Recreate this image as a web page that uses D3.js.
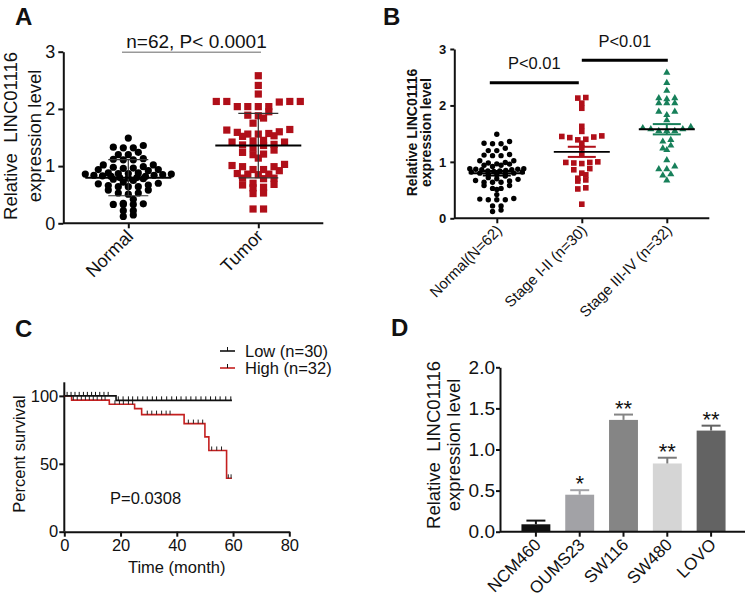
<!DOCTYPE html>
<html><head><meta charset="utf-8">
<script src="https://cdn.jsdelivr.net/npm/d3@7"></script>
<style>
body{margin:0;background:#fff}
svg{display:block}
text{font-family:"Liberation Sans",Arial,Helvetica,sans-serif;fill:#111}
</style>
</head><body>
<svg id="fig" width="750" height="604"></svg>
<script>
// ---------------- DATA ----------------
// Panel A
const groupsA = ["Normal", "Tumor"];
const normalVals = [1.49,1.33,1.32,1.32,1.36,1.20,1.20,1.24,1.13,1.11,1.11,1.12,1.02,1.02,
  0.99,0.965,0.94,0.92,0.94,0.96,0.98,
  0.88,0.87,0.86,0.85,0.84,0.83,0.82,0.80,0.79,0.78,0.80,0.82,0.84,0.86,0.87,0.88,
  0.72,0.70,0.67,0.64,0.64,0.64,0.66,0.69,0.58,0.58,0.53,0.51,0.53,
  0.35,0.34,0.33,0.33,0.33,0.42,0.22,0.22,0.12,0.145,0.75,0.77];
const tumorVals = [2.58,2.41,2.26,2.13,2.13,2.12,2.13,2.13,2.04,2.04,2.04,2.04,
  1.95,1.88,1.84,1.89,1.75,1.63,1.64,
  1.60,1.57,1.56,1.52,1.53,1.56,1.59,1.44,1.42,1.42,1.45,
  1.38,1.36,1.32,1.37,1.28,1.21,1.24,1.14,1.20,
  1.03,0.99,0.99,1.01,0.94,0.87,0.86,0.86,0.92,0.94,
  0.79,0.78,0.79,0.85,0.68,0.63,0.67,0.70,0.53,0.52,0.62,0.25,0.25];
const titleA = "n=62, P< 0.0001";
const ticksA = [0,1,2,3];

// Panel B
const groupsB = ["Normal(N=62)", "Stage I-II (n=30)", "Stage III-IV (n=32)"];
const normalValsB = normalVals.slice();
const stage12Vals = [2.14,2.13,2.04,1.95,1.63,1.54,1.46,1.45,1.44,1.43,1.40,1.39,1.33,1.25,1.15,
  1.00,0.99,0.99,0.98,0.97,0.88,0.86,0.80,0.77,0.71,0.68,0.66,0.54,0.52,0.25];
const stage34Vals = [2.58,2.40,2.26,2.13,2.04,2.04,2.04,2.11,2.13,1.89,1.89,1.83,1.74,
  1.60,1.58,1.55,1.55,1.55,1.58,1.62,1.39,1.36,1.24,1.21,1.29,1.03,0.87,0.87,0.92,0.78,0.76,0.67];
const bracketsB = [{from:0,to:1,y:2.4,label:"P<0.01"},{from:1,to:2,y:2.8,label:"P<0.01"}];
const ticksB = [0,1,2,3];

// Panel C  (Kaplan-Meier step points: [month, percent])
const lowSteps  = [[0,100],[18.4,96.7],[59.6,96.7]];
const highSteps = [[0,100],[2.6,96.9],[16,93.8],[25,90.6],[27.5,86.2],[42.6,79.6],[50,69.8],[51.4,59.8],[57.7,39.3],[59.6,39.3]];
const lowCensor = [1.0,2.4,3.8,5.3,6.8,8.2,9.7,11.1,12.6,14.1,15.6,19.2,20.9,22.8,24.3,26.1,27.9,29.5,31.3,32.8,34.6,36.4,38.2,39.9,41.5,43.3,45.0,46.8,48.6,50.3,52.0,53.8,55.4,57.4,59.2];
const highCensor = [3.2,4.6,6.05,7.5,8.9,10.3,11.7,13.3,14.5,18.0,19.6,21.0,22.8,24.3,29.5,31.1,32.8,34.6,36.2,37.6,44.1,45.9,47.6,49.2,52.4,54.2,55.9,58.3,59.3];
const legendC = ["Low (n=30)", "High (n=32)"];
const pValC = "P=0.0308";
const ticksCx = [0,20,40,60,80];
const ticksCy = [0,50,100];

// Panel D
const cellLines = ["NCM460","OUMS23","SW116","SW480","LOVO"];
const cellVals  = [0.09,0.45,1.36,0.83,1.23];
const cellErr   = [0.045,0.055,0.065,0.07,0.06];
const cellStars = ["","*","**","**","**"];
const cellColors = ["#111111","#a2a2a6","#858585","#d5d5d5","#636363"];
const cellErrColors = ["#111111","#a2a2a6","#858585","#7a7a7a","#636363"];
const ticksD = [0,0.5,1.0,1.5,2.0];

// ---------------- HELPERS ----------------
const svg = d3.select("#fig");
const FONT = '"Liberation Sans",Arial,Helvetica,sans-serif';

function rowLayout(vals, thr, spacing, maxHalf){
  const s = vals.map(v=>({v})).sort((a,b)=>b.v-a.v);
  const rows=[]; let cur=null;
  for(const p of s){ if(!cur || cur.start - p.v > thr){cur={start:p.v,pts:[]};rows.push(cur);} cur.pts.push(p); }
  const out=[];
  for(const r of rows){
    const pts=r.pts.sort((a,b)=>a.v-b.v); const n=pts.length;
    const sp = n>1 ? Math.min(spacing, 2*maxHalf/(n-1)) : 0;
    pts.forEach((p,k)=>{
      let slot;
      if(n%2===1){ slot = k===0?0:(k%2===1? -Math.ceil(k/2): Math.ceil(k/2)); }
      else { const m=Math.floor(k/2)+0.5; slot = k%2===0? -m : m; }
      out.push({v:p.v, dx:slot*sp});
    });
  }
  return out;
}
const mean = a => d3.mean(a);
const sd = a => d3.deviation(a);
function styleAxis(g, size, weight, width){
  g.selectAll("path").attr("stroke","#111").attr("stroke-width",width);
  g.selectAll("line").attr("stroke","#111").attr("stroke-width",width);
  g.selectAll("text").attr("font-size",size).attr("font-weight",weight||"normal").attr("font-family",FONT).attr("fill","#111");
}
function panelLabel(t,x,y){
  svg.append("text").attr("x",x).attr("y",y).attr("font-size",24).attr("font-weight","bold").text(t);
}
const intFmt = d3.format("d");

// ---------------- PANEL A ----------------
(function(){
  const xA = d3.scalePoint().domain(groupsA).range([63.3,323.3]).padding(0.5);
  const yA = d3.scaleLinear().domain([0,3]).range([223.3,51.7]);
  const g = svg.append("g");
  panelLabel("A",15,25);
  g.append("text").attr("x",196.5).attr("y",48).attr("text-anchor","middle").attr("font-size",19).text(titleA);
  g.append("line").attr("x1",122).attr("x2",261).attr("y1",52.3).attr("y2",52.3).attr("stroke","#999").attr("stroke-width",1.5);
  const ya = g.append("g").attr("transform","translate(63.3,0)").call(d3.axisLeft(yA).tickValues(ticksA).tickFormat(intFmt).tickSize(5).tickPadding(3).tickSizeOuter(0));
  styleAxis(ya,18,"normal",2);
  const xa = g.append("g").attr("transform","translate(0,223.3)").call(d3.axisBottom(xA).tickSize(5).tickSizeOuter(0).tickFormat(""));
  styleAxis(xa,18,"normal",2);
  xa.select("path").attr("d","M63.3,0H323.3");
  groupsA.forEach(c=>{
    g.append("text").attr("transform",`translate(${xA(c)+6},${223.3+14}) rotate(-45)`).attr("text-anchor","end").attr("font-size",18).text(c);
  });
  g.append("text").attr("transform","translate(17,136) rotate(-90)").attr("text-anchor","middle").attr("font-size",18.5).attr("xml:space","preserve").text("Relative  LINC01116");
  g.append("text").attr("transform","translate(41,136) rotate(-90)").attr("text-anchor","middle").attr("font-size",18.5).text("expression level");
  const nl = rowLayout(normalVals,0.07,10,43);
  g.selectAll(".pn").data(nl).join("circle").attr("cx",d=>xA("Normal")+d.dx).attr("cy",d=>yA(d.v)).attr("r",3.6).attr("fill","#000");
  const tl = rowLayout(tumorVals,0.1,10.5,43);
  g.selectAll(".pt").data(tl).join("rect").attr("x",d=>xA("Tumor")+d.dx-3.6).attr("y",d=>yA(d.v)-3.6).attr("width",7.2).attr("height",7.2).attr("fill","#b00f19");
  [["Normal",normalVals],["Tumor",tumorVals]].forEach(([c,v])=>{
    const m=mean(v), s=sd(v), cx=xA(c);
    g.append("line").attr("x1",cx).attr("x2",cx).attr("y1",yA(m-s)).attr("y2",yA(m+s)).attr("stroke","#333").attr("stroke-width",1.2);
    [m-s,m+s].forEach(e=>g.append("line").attr("x1",cx-20).attr("x2",cx+20).attr("y1",yA(e)).attr("y2",yA(e)).attr("stroke","#333").attr("stroke-width",1.2));
    g.append("line").attr("x1",cx-43).attr("x2",cx+43).attr("y1",yA(m)).attr("y2",yA(m)).attr("stroke","#000").attr("stroke-width",2);
  });
})();

// ---------------- PANEL B ----------------
(function(){
  const xB = d3.scalePoint().domain(groupsB).range([454.3,709.3]).padding(0.5);
  const yB = d3.scaleLinear().domain([0,3]).range([218.3,49]);
  const g = svg.append("g");
  panelLabel("B",383,25);
  const ya = g.append("g").attr("transform","translate(454.3,0)").call(d3.axisLeft(yB).tickValues(ticksB).tickFormat(intFmt).tickSize(4).tickPadding(4).tickSizeOuter(0));
  styleAxis(ya,13,"bold",2);
  const xa = g.append("g").attr("transform","translate(0,218.3)").call(d3.axisBottom(xB).tickSize(5).tickSizeOuter(0).tickFormat(""));
  styleAxis(xa,13,"normal",2);
  xa.select("path").attr("d","M454.3,0H709.3");
  groupsB.forEach(c=>{
    g.append("text").attr("transform",`translate(${xB(c)+6},${218.3+13}) rotate(-45)`).attr("text-anchor","end").attr("font-size",15).text(c);
  });
  g.append("text").attr("transform","translate(416.5,132.5) rotate(-90)").attr("text-anchor","middle").attr("font-size",14).attr("font-weight","bold").text("Relative LINC01116");
  g.append("text").attr("transform","translate(430.5,132.5) rotate(-90)").attr("text-anchor","middle").attr("font-size",14).attr("font-weight","bold").text("expression level");
  const n0 = rowLayout(normalValsB,0.06,8.5,27);
  g.selectAll(".bn").data(n0).join("circle").attr("cx",d=>xB(groupsB[0])+d.dx).attr("cy",d=>yB(d.v)).attr("r",2.7).attr("fill","#000");
  const n1 = rowLayout(stage12Vals,0.08,8,24);
  g.selectAll(".b1").data(n1).join("rect").attr("x",d=>xB(groupsB[1])+d.dx-2.8).attr("y",d=>yB(d.v)-2.8).attr("width",5.6).attr("height",5.6).attr("fill","#b00f19");
  const n2 = rowLayout(stage34Vals,0.08,8,24);
  const tri = d3.symbol().type(d3.symbolTriangle).size(22);
  g.selectAll(".b2").data(n2).join("path").attr("d",tri).attr("transform",d=>`translate(${xB(groupsB[2])+d.dx},${yB(d.v)})`).attr("fill","#17805a");
  [[0,normalValsB,"#000"],[1,stage12Vals,"#b00f19"],[2,stage34Vals,"#17805a"]].forEach(([i,v,col])=>{
    const m=mean(v), se=sd(v)/Math.sqrt(v.length), cx=xB(groupsB[i]);
    g.append("line").attr("x1",cx).attr("x2",cx).attr("y1",yB(m-se)).attr("y2",yB(m+se)).attr("stroke",col).attr("stroke-width",2);
    [m-se,m+se].forEach(e=>g.append("line").attr("x1",cx-14).attr("x2",cx+14).attr("y1",yB(e)).attr("y2",yB(e)).attr("stroke",col).attr("stroke-width",2));
    g.append("line").attr("x1",cx-28).attr("x2",cx+28).attr("y1",yB(m)).attr("y2",yB(m)).attr("stroke","#000").attr("stroke-width",1.8);
  });
  bracketsB.forEach(b=>{
    const xa1 = b.from===0 ? xB(groupsB[0])-7 : xB(groupsB[1])+0;
    const xa2 = b.from===0 ? xB(groupsB[1])-3 : xB(groupsB[2])+1;
    g.append("line").attr("x1",xa1).attr("x2",xa2).attr("y1",yB(b.y)).attr("y2",yB(b.y)).attr("stroke","#000").attr("stroke-width",3);
    g.append("text").attr("x",(xa1+xa2)/2).attr("y",yB(b.y)-13.5).attr("text-anchor","middle").attr("font-size",16.5).text(b.label);
  });
})();

// ---------------- PANEL C ----------------
(function(){
  const xC = d3.scaleLinear().domain([0,80]).range([64.3,289.3]);
  const yC = d3.scaleLinear().domain([0,110]).range([531.7,382.3]);
  const g = svg.append("g");
  panelLabel("C",15,337);
  const ya = g.append("g").attr("transform","translate(64.3,0)").call(d3.axisLeft(yC).tickValues(ticksCy).tickFormat(intFmt).tickSize(5).tickPadding(1).tickSizeOuter(0));
  styleAxis(ya,16.5,"normal",2);
  ya.select("path").attr("d","M0,531.7V382.3");
  const xa = g.append("g").attr("transform","translate(0,531.7)").call(d3.axisBottom(xC).tickValues(ticksCx).tickFormat(intFmt).tickSize(5).tickPadding(3).tickSizeOuter(0));
  styleAxis(xa,16.5,"normal",2);
  g.append("text").attr("x",176.7).attr("y",573).attr("text-anchor","middle").attr("font-size",16.5).text("Time (month)");
  g.append("text").attr("transform","translate(25,454) rotate(-90)").attr("text-anchor","middle").attr("font-size",16.5).text("Percent survival");
  g.append("text").attr("x",110).attr("y",504).attr("font-size",16.5).text(pValC);
  const line = d3.line().x(d=>xC(d[0])).y(d=>yC(d[1])).curve(d3.curveStepAfter);
  function survAt(steps,t){ let s=steps[0][1]; for(const p of steps){ if(p[0]<=t) s=p[1]; } return s; }
  g.append("path").attr("d",line(highSteps)).attr("fill","none").attr("stroke","#c41f1f").attr("stroke-width",1.6);
  highCensor.forEach(t=>{ const y=yC(survAt(highSteps,t)); g.append("line").attr("x1",xC(t)).attr("x2",xC(t)).attr("y1",y).attr("y2",y-4).attr("stroke","#222").attr("stroke-width",1); });
  g.append("path").attr("d",line(lowSteps)).attr("fill","none").attr("stroke","#111").attr("stroke-width",1.6);
  lowCensor.forEach(t=>{ const y=yC(survAt(lowSteps,t)); g.append("line").attr("x1",xC(t)).attr("x2",xC(t)).attr("y1",y).attr("y2",y-4).attr("stroke","#111").attr("stroke-width",1); });
  [["#111",351,356.5],["#c41f1f",368,374]].forEach((l,i)=>{
    g.append("line").attr("x1",220).attr("x2",235).attr("y1",l[1]).attr("y2",l[1]).attr("stroke",l[0]).attr("stroke-width",1.6);
    g.append("line").attr("x1",227.5).attr("x2",227.5).attr("y1",l[1]).attr("y2",l[1]-4).attr("stroke","#111").attr("stroke-width",1);
    g.append("text").attr("x",245).attr("y",l[2]).attr("font-size",16.5).text(legendC[i]);
  });
})();

// ---------------- PANEL D ----------------
(function(){
  const xD = d3.scaleBand().domain(cellLines).range([514,733]).paddingInner(0.34).paddingOuter(0.17);
  const yD = d3.scaleLinear().domain([0,2]).range([531.7,367.3]);
  const g = svg.append("g");
  panelLabel("D",391,336);
  g.selectAll(".bar").data(cellLines).join("rect").attr("x",c=>xD(c)).attr("width",xD.bandwidth())
    .attr("y",(c,i)=>yD(cellVals[i])).attr("height",(c,i)=>yD(0)-yD(cellVals[i])).attr("fill",(c,i)=>cellColors[i]);
  cellLines.forEach((c,i)=>{
    const cx=xD(c)+xD.bandwidth()/2, top=yD(cellVals[i]+cellErr[i]);
    g.append("line").attr("x1",cx).attr("x2",cx).attr("y1",yD(cellVals[i])).attr("y2",top).attr("stroke",cellErrColors[i]).attr("stroke-width",2);
    g.append("line").attr("x1",cx-9.5).attr("x2",cx+9.5).attr("y1",top).attr("y2",top).attr("stroke",cellErrColors[i]).attr("stroke-width",2);
    if(cellStars[i]) g.append("text").attr("x",cx).attr("y",top+1).attr("text-anchor","middle").attr("font-size",22).text(cellStars[i]);
  });
  const ya = g.append("g").attr("transform","translate(500,0)").call(d3.axisLeft(yD).tickValues(ticksD).tickFormat(d3.format(".1f")).tickSize(4).tickPadding(1).tickSizeOuter(0));
  styleAxis(ya,19,"normal",2);
  const xa = g.append("g").attr("transform","translate(0,531.7)").call(d3.axisBottom(xD).tickSize(5).tickSizeOuter(0).tickFormat(""));
  styleAxis(xa,17,"normal",2);
  xa.select("path").attr("d","M500,0H745");
  cellLines.forEach(c=>{
    const cx=xD(c)+xD.bandwidth()/2;
    g.append("text").attr("transform",`translate(${cx+6},${531.7+14}) rotate(-45)`).attr("text-anchor","end").attr("font-size",17).text(c);
  });
  g.append("text").attr("transform","translate(440,445) rotate(-90)").attr("text-anchor","middle").attr("font-size",18.5).attr("xml:space","preserve").text("Relative  LINC01116");
  g.append("text").attr("transform","translate(460,445) rotate(-90)").attr("text-anchor","middle").attr("font-size",18.5).text("expression level");
})();
</script>
</body></html>
